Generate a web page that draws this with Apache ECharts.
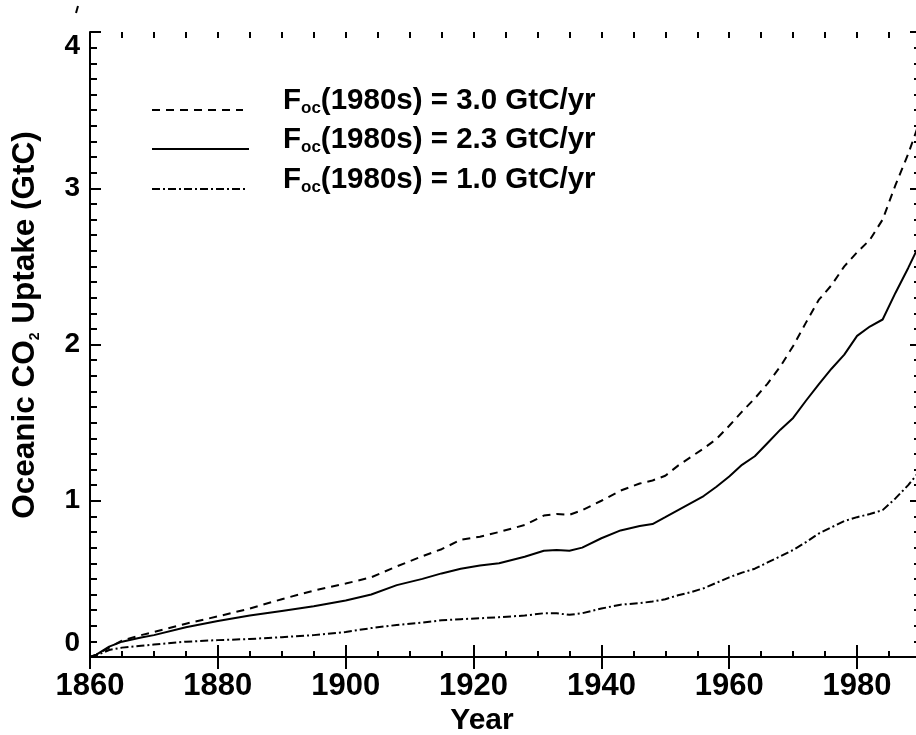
<!DOCTYPE html>
<html>
<head>
<meta charset="utf-8">
<script src="https://cdn.jsdelivr.net/npm/echarts@6/dist/echarts.min.js"></script>
<style>
  html, body { margin: 0; padding: 0; background: #fff; }
  #chart { width: 916px; height: 735px; }
</style>
</head>
<body>
<div id="chart"></div>
<script>
// years
const years = [1860, 1861, 1863, 1865, 1868, 1870, 1875, 1880, 1885, 1890, 1895, 1900, 1904, 1908,
  1912, 1915, 1918, 1921, 1924, 1928, 1931, 1933, 1935, 1937, 1940, 1943, 1946, 1948, 1950, 1952,
  1954, 1956, 1958, 1960, 1962, 1964, 1966, 1968, 1970, 1972, 1974, 1976, 1978, 1980, 1982, 1984,
  1986, 1988, 1990]

// cumulative uptake (GtC), Foc(1980s) = 3.0 / 2.3 / 1.0
const uptake30 = [0, 0.015, 0.06, 0.105, 0.14, 0.16, 0.213, 0.26, 0.31, 0.37, 0.425, 0.47, 0.51, 0.58,
  0.645, 0.69, 0.75, 0.77, 0.80, 0.845, 0.905, 0.915, 0.91, 0.94, 1.00, 1.065, 1.11, 1.13, 1.16, 1.225,
  1.28, 1.335, 1.395, 1.48, 1.57, 1.655, 1.75, 1.86, 1.99, 2.14, 2.285, 2.38, 2.50, 2.59, 2.67, 2.80,
  3.02, 3.22, 3.45]
const uptake23 = [0, 0.015, 0.066, 0.098, 0.125, 0.14, 0.19, 0.23, 0.265, 0.295, 0.325, 0.362, 0.40, 0.46,
  0.50, 0.535, 0.565, 0.585, 0.60, 0.642, 0.68, 0.685, 0.68, 0.70, 0.76, 0.81, 0.838, 0.851, 0.895, 0.94,
  0.985, 1.03, 1.09, 1.155, 1.23, 1.285, 1.37, 1.455, 1.53, 1.64, 1.745, 1.845, 1.935, 2.055, 2.115, 2.16,
  2.33, 2.49, 2.66]
const uptake10 = [0, 0.01, 0.045, 0.06, 0.072, 0.08, 0.098, 0.108, 0.115, 0.127, 0.14, 0.16, 0.185, 0.205,
  0.22, 0.235, 0.242, 0.248, 0.255, 0.265, 0.28, 0.28, 0.27, 0.28, 0.31, 0.335, 0.345, 0.355, 0.37, 0.395,
  0.415, 0.44, 0.475, 0.51, 0.54, 0.565, 0.605, 0.645, 0.685, 0.735, 0.79, 0.83, 0.87, 0.895, 0.915, 0.94,
  1.015, 1.10, 1.20]

const legendValues = ['3.0', '2.3', '1.0']

const FONT = '"Liberation Sans", Arial, Helvetica, sans-serif'
const dashHigh = [8, 6]
const dashLow = [8, 3, 2, 3]

function pairs(vals) {
  return years.map((y, i) => [y, vals[i]])
}

function mkLine(name, vals, type) {
  return {
    name: name,
    type: 'line',
    xAxisIndex: 0,
    yAxisIndex: 0,
    data: pairs(vals),
    symbol: 'none',
    smooth: false,
    silent: true,
    animation: false,
    lineStyle: { color: '#000', width: 2, type: type },
  }
}

const frame = { show: true, lineStyle: { color: '#000', width: 2 } }

// big ticks (every 20 yr) on grid 0
function xMajor(pos, withLabels) {
  return {
    type: 'value', gridIndex: 0, position: pos,
    min: 1860, max: 1990, interval: 20,
    axisLine: frame,
    axisTick: { show: true, inside: true, length: 12, lineStyle: { color: '#000', width: 2 } },
    axisLabel: {
      show: withLabels, showMaxLabel: false, margin: 14,
      formatter: (v) => String(v),
      color: '#000', fontFamily: FONT, fontWeight: 'bold', fontSize: 31,
    },
    splitLine: { show: false },
  }
}
// small ticks (every 5 yr) on grid 1, same rectangle
function xMinor(pos) {
  return {
    type: 'value', gridIndex: 1, position: pos,
    min: 1860, max: 1990, interval: 5,
    axisLine: { show: false },
    axisTick: { show: true, inside: true, length: 6, lineStyle: { color: '#000', width: 2 } },
    axisLabel: { show: false },
    splitLine: { show: false },
  }
}
function yAxisDef(pos, withLabels) {
  return {
    type: 'value', gridIndex: 0, position: pos,
    min: 0, max: 4, interval: 1,
    axisLine: frame,
    axisTick: { show: true, inside: true, length: 11, lineStyle: { color: '#000', width: 2 } },
    minorTick: { show: true, splitNumber: 10, length: 7, lineStyle: { color: '#000', width: 2 } },
    axisLabel: {
      show: withLabels, margin: 10,
      verticalAlignMinLabel: 'bottom', verticalAlignMaxLabel: 'top',
      color: '#000', fontFamily: FONT, fontWeight: 'bold', fontSize: 28,
    },
    splitLine: { show: false },
  }
}

const gridBox = { left: 90, top: 32, right: -5, bottom: 78, containLabel: false, outerBoundsMode: 'none' }

// legend samples + labels
const legendY = [110, 149, 189]
const legendDash = [dashHigh, null, dashLow]
const legendEnd = [243, 249, 248]
const graphics = []
legendValues.forEach((v, i) => {
  graphics.push({
    type: 'line', silent: true,
    shape: { x1: 152, y1: legendY[i], x2: legendEnd[i], y2: legendY[i] },
    style: { stroke: '#000', lineWidth: 2, lineDash: legendDash[i] },
  })
  graphics.push({
    type: 'text', silent: true, x: 283, y: legendY[i] - 9,
    style: {
      text: '{m|F}{s|oc}{m|(1980s) = ' + v + ' GtC/yr}',
      verticalAlign: 'middle', align: 'left',
      rich: {
        m: { fontFamily: FONT, fontWeight: 'bold', fontSize: 29.5, lineHeight: 32, fill: '#000' },
        s: { fontFamily: FONT, fontWeight: 'bold', fontSize: 17, verticalAlign: 'bottom', fill: '#000' },
      },
    },
  })
})
// y title
graphics.push({
  type: 'text', silent: true, x: 25, y: 325, rotation: Math.PI / 2,
  style: {
    text: '{m|Oceanic CO}{s|2}{m| Uptake (GtC)}',
    align: 'center', verticalAlign: 'middle',
    rich: {
      m: { fontFamily: FONT, fontWeight: 'bold', fontSize: 31.5, lineHeight: 34, fill: '#000' },
      s: { fontFamily: FONT, fontWeight: 'bold', fontSize: 14, verticalAlign: 'bottom', fill: '#000' },
    },
  },
})
// x title
graphics.push({
  type: 'text', silent: true, x: 482, y: 721,
  style: {
    text: 'Year', align: 'center', verticalAlign: 'middle',
    fontFamily: FONT, fontWeight: 'bold', fontSize: 30, fill: '#000',
  },
})
// stray mark at top left of the scan
graphics.push({
  type: 'line', silent: true,
  shape: { x1: 78, y1: 6, x2: 76, y2: 13 },
  style: { stroke: '#000', lineWidth: 2 },
})

const option = {
  animation: false,
  backgroundColor: '#fff',
  grid: [gridBox, Object.assign({}, gridBox)],
  xAxis: [xMajor('bottom', true), xMajor('top', false), xMinor('bottom'), xMinor('top')],
  yAxis: [yAxisDef('left', true), yAxisDef('right', false),
    { type: 'value', gridIndex: 1, min: 0, max: 4, show: false }],
  series: [
    mkLine('3.0', uptake30, dashHigh),
    mkLine('2.3', uptake23, 'solid'),
    mkLine('1.0', uptake10, dashLow),
  ],
  graphic: graphics,
}

const chart = echarts.init(document.getElementById('chart'), null, { renderer: 'canvas' })
chart.setOption(option)
</script>
</body>
</html>
